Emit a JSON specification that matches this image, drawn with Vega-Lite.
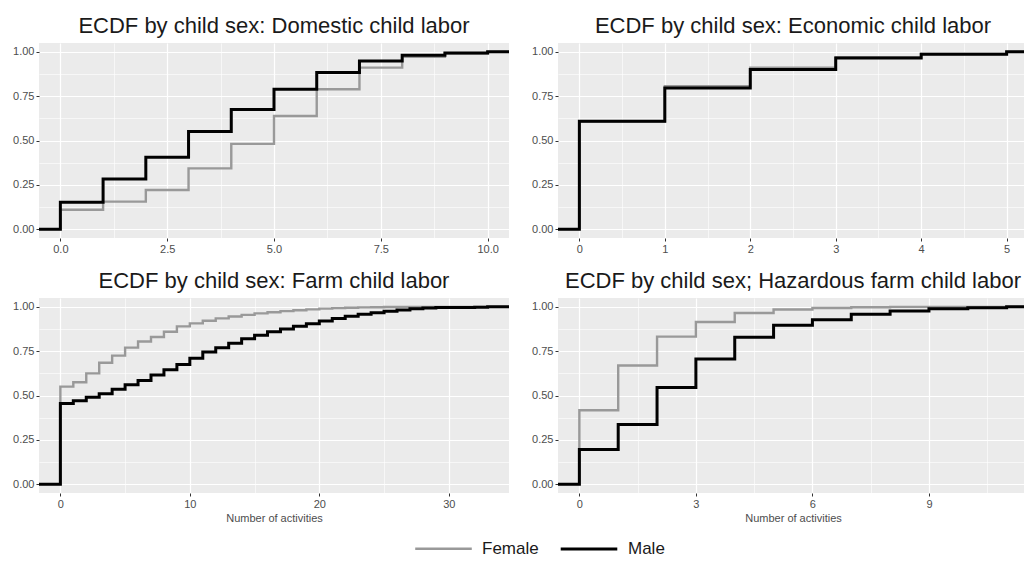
{
  "$schema": "https://vega.github.io/schema/vega-lite/v6.json",
  "background": "white",
  "padding": {"left": 12, "top": 15, "right": 0, "bottom": 0},
  "bounds": "flush",
  "spacing": {"row": 60, "column": 49},
  "columns": 2,
  "datasets": {
    "ecdf": [
      {"panel": "Domestic", "sex": "Female", "activities": -0.5, "ecdf": 0},
      {"panel": "Domestic", "sex": "Female", "activities": 0, "ecdf": 0.109},
      {"panel": "Domestic", "sex": "Female", "activities": 1, "ecdf": 0.155},
      {"panel": "Domestic", "sex": "Female", "activities": 2, "ecdf": 0.221},
      {"panel": "Domestic", "sex": "Female", "activities": 3, "ecdf": 0.343},
      {"panel": "Domestic", "sex": "Female", "activities": 4, "ecdf": 0.481},
      {"panel": "Domestic", "sex": "Female", "activities": 5, "ecdf": 0.638},
      {"panel": "Domestic", "sex": "Female", "activities": 6, "ecdf": 0.789},
      {"panel": "Domestic", "sex": "Female", "activities": 7, "ecdf": 0.911},
      {"panel": "Domestic", "sex": "Female", "activities": 8, "ecdf": 0.972},
      {"panel": "Domestic", "sex": "Female", "activities": 9, "ecdf": 0.99},
      {"panel": "Domestic", "sex": "Female", "activities": 10, "ecdf": 1.0},
      {"panel": "Domestic", "sex": "Female", "activities": 10.5, "ecdf": 1.0},
      {"panel": "Domestic", "sex": "Male", "activities": -0.5, "ecdf": 0},
      {"panel": "Domestic", "sex": "Male", "activities": 0, "ecdf": 0.151},
      {"panel": "Domestic", "sex": "Male", "activities": 1, "ecdf": 0.283},
      {"panel": "Domestic", "sex": "Male", "activities": 2, "ecdf": 0.406},
      {"panel": "Domestic", "sex": "Male", "activities": 3, "ecdf": 0.551},
      {"panel": "Domestic", "sex": "Male", "activities": 4, "ecdf": 0.675},
      {"panel": "Domestic", "sex": "Male", "activities": 5, "ecdf": 0.789},
      {"panel": "Domestic", "sex": "Male", "activities": 6, "ecdf": 0.883},
      {"panel": "Domestic", "sex": "Male", "activities": 7, "ecdf": 0.949},
      {"panel": "Domestic", "sex": "Male", "activities": 8, "ecdf": 0.981},
      {"panel": "Domestic", "sex": "Male", "activities": 9, "ecdf": 0.994},
      {"panel": "Domestic", "sex": "Male", "activities": 10, "ecdf": 1.0},
      {"panel": "Domestic", "sex": "Male", "activities": 10.5, "ecdf": 1.0},

      {"panel": "Economic", "sex": "Female", "activities": -0.25, "ecdf": 0},
      {"panel": "Economic", "sex": "Female", "activities": 0, "ecdf": 0.607},
      {"panel": "Economic", "sex": "Female", "activities": 1, "ecdf": 0.806},
      {"panel": "Economic", "sex": "Female", "activities": 2, "ecdf": 0.911},
      {"panel": "Economic", "sex": "Female", "activities": 3, "ecdf": 0.97},
      {"panel": "Economic", "sex": "Female", "activities": 4, "ecdf": 0.988},
      {"panel": "Economic", "sex": "Female", "activities": 5, "ecdf": 1.0},
      {"panel": "Economic", "sex": "Female", "activities": 5.25, "ecdf": 1.0},
      {"panel": "Economic", "sex": "Male", "activities": -0.25, "ecdf": 0},
      {"panel": "Economic", "sex": "Male", "activities": 0, "ecdf": 0.609},
      {"panel": "Economic", "sex": "Male", "activities": 1, "ecdf": 0.796},
      {"panel": "Economic", "sex": "Male", "activities": 2, "ecdf": 0.9},
      {"panel": "Economic", "sex": "Male", "activities": 3, "ecdf": 0.966},
      {"panel": "Economic", "sex": "Male", "activities": 4, "ecdf": 0.986},
      {"panel": "Economic", "sex": "Male", "activities": 5, "ecdf": 1.0},
      {"panel": "Economic", "sex": "Male", "activities": 5.25, "ecdf": 1.0},

      {"panel": "Farm", "sex": "Female", "activities": -1.65, "ecdf": 0},
      {"panel": "Farm", "sex": "Female", "activities": 0, "ecdf": 0.55},
      {"panel": "Farm", "sex": "Female", "activities": 1, "ecdf": 0.575},
      {"panel": "Farm", "sex": "Female", "activities": 2, "ecdf": 0.625},
      {"panel": "Farm", "sex": "Female", "activities": 3, "ecdf": 0.685},
      {"panel": "Farm", "sex": "Female", "activities": 4, "ecdf": 0.725},
      {"panel": "Farm", "sex": "Female", "activities": 5, "ecdf": 0.77},
      {"panel": "Farm", "sex": "Female", "activities": 6, "ecdf": 0.805},
      {"panel": "Farm", "sex": "Female", "activities": 7, "ecdf": 0.83},
      {"panel": "Farm", "sex": "Female", "activities": 8, "ecdf": 0.86},
      {"panel": "Farm", "sex": "Female", "activities": 9, "ecdf": 0.89},
      {"panel": "Farm", "sex": "Female", "activities": 10, "ecdf": 0.907},
      {"panel": "Farm", "sex": "Female", "activities": 11, "ecdf": 0.922},
      {"panel": "Farm", "sex": "Female", "activities": 12, "ecdf": 0.935},
      {"panel": "Farm", "sex": "Female", "activities": 13, "ecdf": 0.946},
      {"panel": "Farm", "sex": "Female", "activities": 14, "ecdf": 0.955},
      {"panel": "Farm", "sex": "Female", "activities": 15, "ecdf": 0.963},
      {"panel": "Farm", "sex": "Female", "activities": 16, "ecdf": 0.97},
      {"panel": "Farm", "sex": "Female", "activities": 17, "ecdf": 0.976},
      {"panel": "Farm", "sex": "Female", "activities": 18, "ecdf": 0.981},
      {"panel": "Farm", "sex": "Female", "activities": 19, "ecdf": 0.986},
      {"panel": "Farm", "sex": "Female", "activities": 20, "ecdf": 0.99},
      {"panel": "Farm", "sex": "Female", "activities": 21, "ecdf": 0.993},
      {"panel": "Farm", "sex": "Female", "activities": 22, "ecdf": 0.995},
      {"panel": "Farm", "sex": "Female", "activities": 23, "ecdf": 0.997},
      {"panel": "Farm", "sex": "Female", "activities": 24, "ecdf": 0.998},
      {"panel": "Farm", "sex": "Female", "activities": 25, "ecdf": 0.999},
      {"panel": "Farm", "sex": "Female", "activities": 26, "ecdf": 1.0},
      {"panel": "Farm", "sex": "Female", "activities": 34.65, "ecdf": 1.0},
      {"panel": "Farm", "sex": "Male", "activities": -1.65, "ecdf": 0},
      {"panel": "Farm", "sex": "Male", "activities": 0, "ecdf": 0.455},
      {"panel": "Farm", "sex": "Male", "activities": 1, "ecdf": 0.47},
      {"panel": "Farm", "sex": "Male", "activities": 2, "ecdf": 0.49},
      {"panel": "Farm", "sex": "Male", "activities": 3, "ecdf": 0.51},
      {"panel": "Farm", "sex": "Male", "activities": 4, "ecdf": 0.535},
      {"panel": "Farm", "sex": "Male", "activities": 5, "ecdf": 0.56},
      {"panel": "Farm", "sex": "Male", "activities": 6, "ecdf": 0.585},
      {"panel": "Farm", "sex": "Male", "activities": 7, "ecdf": 0.615},
      {"panel": "Farm", "sex": "Male", "activities": 8, "ecdf": 0.645},
      {"panel": "Farm", "sex": "Male", "activities": 9, "ecdf": 0.675},
      {"panel": "Farm", "sex": "Male", "activities": 10, "ecdf": 0.71},
      {"panel": "Farm", "sex": "Male", "activities": 11, "ecdf": 0.745},
      {"panel": "Farm", "sex": "Male", "activities": 12, "ecdf": 0.77},
      {"panel": "Farm", "sex": "Male", "activities": 13, "ecdf": 0.795},
      {"panel": "Farm", "sex": "Male", "activities": 14, "ecdf": 0.82},
      {"panel": "Farm", "sex": "Male", "activities": 15, "ecdf": 0.84},
      {"panel": "Farm", "sex": "Male", "activities": 16, "ecdf": 0.86},
      {"panel": "Farm", "sex": "Male", "activities": 17, "ecdf": 0.875},
      {"panel": "Farm", "sex": "Male", "activities": 18, "ecdf": 0.89},
      {"panel": "Farm", "sex": "Male", "activities": 19, "ecdf": 0.905},
      {"panel": "Farm", "sex": "Male", "activities": 20, "ecdf": 0.92},
      {"panel": "Farm", "sex": "Male", "activities": 21, "ecdf": 0.935},
      {"panel": "Farm", "sex": "Male", "activities": 22, "ecdf": 0.947},
      {"panel": "Farm", "sex": "Male", "activities": 23, "ecdf": 0.958},
      {"panel": "Farm", "sex": "Male", "activities": 24, "ecdf": 0.967},
      {"panel": "Farm", "sex": "Male", "activities": 25, "ecdf": 0.975},
      {"panel": "Farm", "sex": "Male", "activities": 26, "ecdf": 0.983},
      {"panel": "Farm", "sex": "Male", "activities": 27, "ecdf": 0.989},
      {"panel": "Farm", "sex": "Male", "activities": 28, "ecdf": 0.993},
      {"panel": "Farm", "sex": "Male", "activities": 29, "ecdf": 0.996},
      {"panel": "Farm", "sex": "Male", "activities": 30, "ecdf": 0.997},
      {"panel": "Farm", "sex": "Male", "activities": 32, "ecdf": 0.998},
      {"panel": "Farm", "sex": "Male", "activities": 33, "ecdf": 1.0},
      {"panel": "Farm", "sex": "Male", "activities": 34.65, "ecdf": 1.0},

      {"panel": "Hazardous", "sex": "Female", "activities": -0.55, "ecdf": 0},
      {"panel": "Hazardous", "sex": "Female", "activities": 0, "ecdf": 0.417},
      {"panel": "Hazardous", "sex": "Female", "activities": 1, "ecdf": 0.669},
      {"panel": "Hazardous", "sex": "Female", "activities": 2, "ecdf": 0.832},
      {"panel": "Hazardous", "sex": "Female", "activities": 3, "ecdf": 0.915},
      {"panel": "Hazardous", "sex": "Female", "activities": 4, "ecdf": 0.965},
      {"panel": "Hazardous", "sex": "Female", "activities": 5, "ecdf": 0.985},
      {"panel": "Hazardous", "sex": "Female", "activities": 6, "ecdf": 0.994},
      {"panel": "Hazardous", "sex": "Female", "activities": 7, "ecdf": 0.998},
      {"panel": "Hazardous", "sex": "Female", "activities": 8, "ecdf": 1.0},
      {"panel": "Hazardous", "sex": "Female", "activities": 11.55, "ecdf": 1.0},
      {"panel": "Hazardous", "sex": "Male", "activities": -0.55, "ecdf": 0},
      {"panel": "Hazardous", "sex": "Male", "activities": 0, "ecdf": 0.195},
      {"panel": "Hazardous", "sex": "Male", "activities": 1, "ecdf": 0.337},
      {"panel": "Hazardous", "sex": "Male", "activities": 2, "ecdf": 0.545},
      {"panel": "Hazardous", "sex": "Male", "activities": 3, "ecdf": 0.706},
      {"panel": "Hazardous", "sex": "Male", "activities": 4, "ecdf": 0.828},
      {"panel": "Hazardous", "sex": "Male", "activities": 5, "ecdf": 0.896},
      {"panel": "Hazardous", "sex": "Male", "activities": 6, "ecdf": 0.928},
      {"panel": "Hazardous", "sex": "Male", "activities": 7, "ecdf": 0.958},
      {"panel": "Hazardous", "sex": "Male", "activities": 8, "ecdf": 0.977},
      {"panel": "Hazardous", "sex": "Male", "activities": 9, "ecdf": 0.99},
      {"panel": "Hazardous", "sex": "Male", "activities": 10, "ecdf": 0.995},
      {"panel": "Hazardous", "sex": "Male", "activities": 11, "ecdf": 1.0},
      {"panel": "Hazardous", "sex": "Male", "activities": 11.55, "ecdf": 1.0}
    ]
  },
  "concat": [
    {
      "title": "ECDF by child sex: Domestic child labor",
      "width": 470, "height": 195,
      "data": {"name": "ecdf"},
      "transform": [{"filter": "datum.panel === 'Domestic'"}],
      "mark": {"type": "line", "interpolate": "step-after", "clip": true},
      "encoding": {
        "x": {"field": "activities", "type": "quantitative",
              "scale": {"domain": [-0.5, 10.5], "nice": false, "zero": false},
              "axis": {"title": null, "values": [-1.25, 0, 1.25, 2.5, 3.75, 5, 6.25, 7.5, 8.75, 10],
                       "labelExpr": "datum.value % 2.5 === 0 ? format(datum.value, '.1f') : ''",
                       "tickOpacity": {"condition": {"test": "datum.value % 2.5 !== 0", "value": 0}, "value": 1},
                       "gridWidth": {"condition": {"test": "datum.value % 2.5 !== 0", "value": 0.6}, "value": 1.2}}},
        "y": {"field": "ecdf", "type": "quantitative",
              "scale": {"domain": [-0.05, 1.05], "nice": false},
              "axis": {"title": null, "values": [0, 0.125, 0.25, 0.375, 0.5, 0.625, 0.75, 0.875, 1],
                       "labelExpr": "datum.value % 0.25 === 0 ? format(datum.value, '.2f') : ''",
                       "tickOpacity": {"condition": {"test": "datum.value % 0.25 !== 0", "value": 0}, "value": 1},
                       "gridWidth": {"condition": {"test": "datum.value % 0.25 !== 0", "value": 0.6}, "value": 1.2}}},
        "color": {"field": "sex", "type": "nominal",
                  "scale": {"domain": ["Female", "Male"], "range": ["#999999", "#000000"]},
                  "legend": {"title": null, "orient": "none", "legendX": 375, "legendY": 476}},
        "strokeWidth": {"field": "sex", "type": "nominal",
                        "scale": {"domain": ["Female", "Male"], "range": [2.4, 3]}, "legend": null}
      }
    },
    {
      "title": "ECDF by child sex: Economic child labor",
      "width": 470, "height": 195,
      "data": {"name": "ecdf"},
      "transform": [{"filter": "datum.panel === 'Economic'"}],
      "mark": {"type": "line", "interpolate": "step-after", "clip": true},
      "encoding": {
        "x": {"field": "activities", "type": "quantitative",
              "scale": {"domain": [-0.25, 5.25], "nice": false, "zero": false},
              "axis": {"title": null, "values": [-0.5, 0, 0.5, 1, 1.5, 2, 2.5, 3, 3.5, 4, 4.5, 5],
                       "labelExpr": "datum.value % 1 === 0 ? format(datum.value, 'd') : ''",
                       "tickOpacity": {"condition": {"test": "datum.value % 1 !== 0", "value": 0}, "value": 1},
                       "gridWidth": {"condition": {"test": "datum.value % 1 !== 0", "value": 0.6}, "value": 1.2}}},
        "y": {"field": "ecdf", "type": "quantitative",
              "scale": {"domain": [-0.05, 1.05], "nice": false},
              "axis": {"title": null, "values": [0, 0.125, 0.25, 0.375, 0.5, 0.625, 0.75, 0.875, 1],
                       "labelExpr": "datum.value % 0.25 === 0 ? format(datum.value, '.2f') : ''",
                       "tickOpacity": {"condition": {"test": "datum.value % 0.25 !== 0", "value": 0}, "value": 1},
                       "gridWidth": {"condition": {"test": "datum.value % 0.25 !== 0", "value": 0.6}, "value": 1.2}}},
        "color": {"field": "sex", "type": "nominal",
                  "scale": {"domain": ["Female", "Male"], "range": ["#999999", "#000000"]},
                  "legend": {"title": null, "orient": "none", "legendX": 375, "legendY": 476}},
        "strokeWidth": {"field": "sex", "type": "nominal",
                        "scale": {"domain": ["Female", "Male"], "range": [2.4, 3]}, "legend": null}
      }
    },
    {
      "title": "ECDF by child sex: Farm child labor",
      "width": 470, "height": 195,
      "data": {"name": "ecdf"},
      "transform": [{"filter": "datum.panel === 'Farm'"}],
      "mark": {"type": "line", "interpolate": "step-after", "clip": true},
      "encoding": {
        "x": {"field": "activities", "type": "quantitative",
              "scale": {"domain": [-1.65, 34.65], "nice": false, "zero": false},
              "axis": {"title": "Number of activities", "values": [0, 5, 10, 15, 20, 25, 30],
                       "labelExpr": "datum.value % 10 === 0 ? format(datum.value, 'd') : ''",
                       "tickOpacity": {"condition": {"test": "datum.value % 10 !== 0", "value": 0}, "value": 1},
                       "gridWidth": {"condition": {"test": "datum.value % 10 !== 0", "value": 0.6}, "value": 1.2}}},
        "y": {"field": "ecdf", "type": "quantitative",
              "scale": {"domain": [-0.05, 1.05], "nice": false},
              "axis": {"title": null, "values": [0, 0.125, 0.25, 0.375, 0.5, 0.625, 0.75, 0.875, 1],
                       "labelExpr": "datum.value % 0.25 === 0 ? format(datum.value, '.2f') : ''",
                       "tickOpacity": {"condition": {"test": "datum.value % 0.25 !== 0", "value": 0}, "value": 1},
                       "gridWidth": {"condition": {"test": "datum.value % 0.25 !== 0", "value": 0.6}, "value": 1.2}}},
        "color": {"field": "sex", "type": "nominal",
                  "scale": {"domain": ["Female", "Male"], "range": ["#999999", "#000000"]},
                  "legend": {"title": null, "orient": "none", "legendX": 375, "legendY": 476}},
        "strokeWidth": {"field": "sex", "type": "nominal",
                        "scale": {"domain": ["Female", "Male"], "range": [2.4, 3]}, "legend": null}
      }
    },
    {
      "title": "ECDF by child sex; Hazardous farm child labor",
      "width": 470, "height": 195,
      "data": {"name": "ecdf"},
      "transform": [{"filter": "datum.panel === 'Hazardous'"}],
      "mark": {"type": "line", "interpolate": "step-after", "clip": true},
      "encoding": {
        "x": {"field": "activities", "type": "quantitative",
              "scale": {"domain": [-0.55, 11.55], "nice": false, "zero": false},
              "axis": {"title": "Number of activities", "values": [0, 1.5, 3, 4.5, 6, 7.5, 9, 10.5],
                       "labelExpr": "datum.value % 3 === 0 ? format(datum.value, 'd') : ''",
                       "tickOpacity": {"condition": {"test": "datum.value % 3 !== 0", "value": 0}, "value": 1},
                       "gridWidth": {"condition": {"test": "datum.value % 3 !== 0", "value": 0.6}, "value": 1.2}}},
        "y": {"field": "ecdf", "type": "quantitative",
              "scale": {"domain": [-0.05, 1.05], "nice": false},
              "axis": {"title": null, "values": [0, 0.125, 0.25, 0.375, 0.5, 0.625, 0.75, 0.875, 1],
                       "labelExpr": "datum.value % 0.25 === 0 ? format(datum.value, '.2f') : ''",
                       "tickOpacity": {"condition": {"test": "datum.value % 0.25 !== 0", "value": 0}, "value": 1},
                       "gridWidth": {"condition": {"test": "datum.value % 0.25 !== 0", "value": 0.6}, "value": 1.2}}},
        "color": {"field": "sex", "type": "nominal",
                  "scale": {"domain": ["Female", "Male"], "range": ["#999999", "#000000"]},
                  "legend": {"title": null, "orient": "none", "legendX": 375, "legendY": 476}},
        "strokeWidth": {"field": "sex", "type": "nominal",
                        "scale": {"domain": ["Female", "Male"], "range": [2.4, 3]}, "legend": null}
      }
    }
  ],
  "config": {
    "font": "Liberation Sans",
    "view": {"fill": "#EBEBEB", "stroke": null},
    "title": {"fontSize": 22, "fontWeight": "normal", "color": "#1a1a1a", "offset": 5, "anchor": "middle"},
    "axis": {
      "domain": false,
      "grid": true,
      "gridColor": "#FFFFFF",
      "tickColor": "#333333",
      "tickSize": 3,
      "tickWidth": 1,
      "labelColor": "#4D4D4D",
      "labelFontSize": 11,
      "labelPadding": 2,
      "titleColor": "#4D4D4D",
      "titleFontSize": 11,
      "titleFontWeight": "normal",
      "titlePadding": 3
    },
    "axisY": {"labelBaseline": "middle"},
    "legend": {
      "direction": "horizontal",
      "symbolType": "stroke",
      "symbolSize": 3200,
      "symbolStrokeWidth": 3,
      "labelFontSize": 17,
      "labelColor": "#1a1a1a",
      "columnPadding": 15,
      "labelOffset": 9
    }
  }
}
